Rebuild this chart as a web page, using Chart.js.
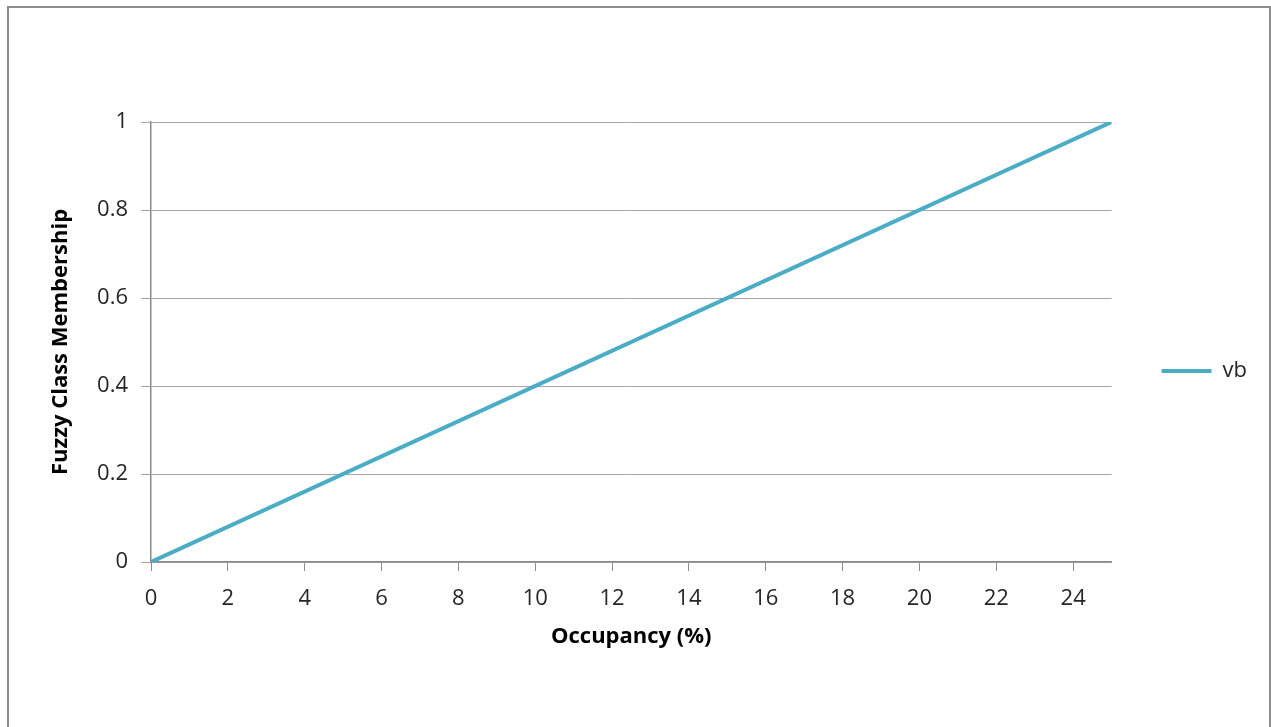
<!DOCTYPE html>
<html>
<head>
    <script src="https://cdn.jsdelivr.net/npm/chart.js"></script>
    <style>
        body { margin: 0; background: #fff; overflow: hidden; }
        .frame {
            position: absolute; left: 7px; top: 6px;
            width: 1264px; height: 740px;
            border: 2px solid #8c8c8c; box-sizing: border-box;
        }
    </style>
</head>
<body>
    <div class="frame">
        <canvas id="membershipChart" width="1260" height="736"></canvas>
    </div>

    <script>
        // membership line
        const occupancy = [0, 25];
        const membership = [0, 1];
        const yTickLabels = ['0', '0.2', '0.4', '0.6', '0.8', '1'];
        const seriesName = 'vb';

        const points = occupancy.map((x, i) => ({ x: x, y: membership[i] }));

        const gridColor = '#a6a6a6';
        const axisColor = '#8c8c8c';
        const textColor = '#262626';
        const tickFont = { family: 'Open Sans', size: 22 };
        const titleFont = { family: 'Open Sans', size: 22, weight: 'bold' };

        const membershipChart = new Chart('membershipChart', {
            type: 'line',
            data: {
                datasets: [{
                    label: seriesName,
                    data: points,
                    borderColor: '#4bacc6',
                    backgroundColor: '#4bacc6',
                    borderWidth: 4,
                    borderCapStyle: 'round',
                    pointRadius: 0,
                    pointHoverRadius: 0,
                    fill: false,
                }]
            },
            options: {
                responsive: false,
                animation: false,
                layout: {
                    padding: { left: 39, top: 114, right: 12, bottom: 94 }
                },
                plugins: {
                    tooltip: { enabled: false },
                    legend: {
                        position: 'right',
                        fullSize: false,
                        maxWidth: 158,
                        title: {
                            display: true,
                            text: '',
                            font: { size: 10 },
                            padding: { top: 46, bottom: 0 },
                        },
                        labels: {
                            usePointStyle: true,
                            pointStyle: 'line',
                            pointStyleWidth: 50,
                            padding: 50,
                            color: textColor,
                            font: tickFont,
                        },
                    },
                },
                scales: {
                    x: {
                        type: 'linear',
                        min: 0,
                        max: 25,
                        afterFit: (scale) => { scale.height = 88; },
                        border: { color: axisColor, width: 1.5 },
                        grid: {
                            drawOnChartArea: false,
                            drawTicks: true,
                            tickLength: 9,
                            color: axisColor,
                        },
                        ticks: {
                            stepSize: 2,
                            includeBounds: false,
                            padding: 15,
                            maxRotation: 0,
                            color: textColor,
                            font: tickFont,
                        },
                        title: {
                            display: true,
                            text: 'Occupancy (%)',
                            color: '#000',
                            font: titleFont,
                            padding: 0,
                        },
                    },
                    y: {
                        min: 0,
                        max: 1,
                        afterFit: (scale) => { scale.width = 103; },
                        border: { color: axisColor, width: 1.5 },
                        grid: {
                            color: gridColor,
                            tickLength: 10,
                        },
                        ticks: {
                            stepSize: 0.2,
                            padding: 13,
                            color: textColor,
                            font: tickFont,
                            callback: (value) => yTickLabels[Math.round(value * 5)],
                        },
                        title: {
                            display: true,
                            text: 'Fuzzy Class Membership',
                            color: '#000',
                            font: titleFont,
                            padding: 0,
                        },
                    },
                },
            },
        });
    </script>
</body>
</html>
